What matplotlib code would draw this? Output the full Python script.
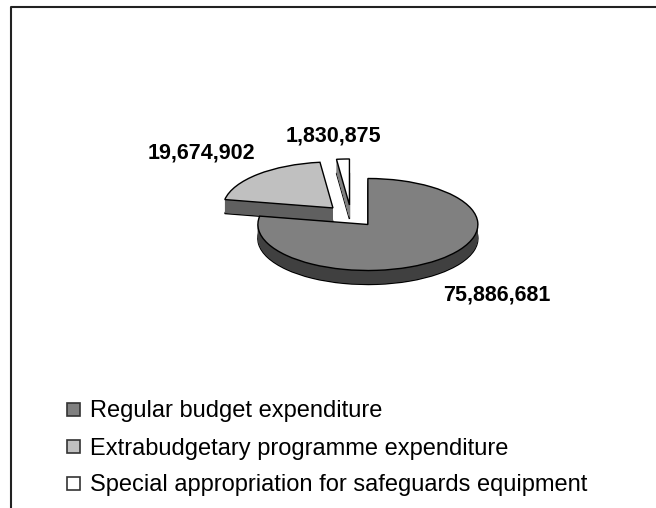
import matplotlib.pyplot as plt
from matplotlib.patches import Wedge, Rectangle
from matplotlib.transforms import Affine2D

plt.rcParams['font.family'] = ['Liberation Sans', 'DejaVu Sans']

values = [75886681, 19674902, 1830875]
names = ['Regular budget expenditure',
         'Extrabudgetary programme expenditure',
         'Special appropriation for safeguards equipment']
top_colors = ['#808080', '#c0c0c0', '#ffffff']
side_colors = ['#404040', '#606060', '#808080']
label_pos = [(497, 295), (201, 153), (333, 136)]

fig = plt.figure(figsize=(6.56, 5.08), dpi=100)
ax = fig.add_axes([0, 0, 1, 1])

# base pie gives the slice geometry (angles + explode offsets)
wedges, _ = ax.pie(values, startangle=90, counterclock=False, explode=[0.24] * 3)
geo = [(w.center, w.r, w.theta1, w.theta2) for w in wedges]
for w in wedges:
    w.remove()

ax.set_xlim(0, 656)
ax.set_ylim(508, 0)
ax.set_aspect('auto')
ax.axis('off')

# tilted 3d look: squash the pie and stack layers for the side walls
cx, cy, rx, ry, depth = 351, 216, 110, 46, 14
steps = 28
for i in [2, 1, 0]:
    center, r, t1, t2 = geo[i]
    for k in range(steps + 1):
        d = depth * (1 - k / steps)
        tr = Affine2D().scale(rx, -ry).translate(cx, cy + d) + ax.transData
        if k == 0:
            w = Wedge(center, r, t1, t2, facecolor=side_colors[i], edgecolor='black', lw=1.0)
        elif k == steps:
            w = Wedge(center, r, t1, t2, facecolor=top_colors[i], edgecolor='black', lw=1.0)
        else:
            w = Wedge(center, r, t1, t2, facecolor=side_colors[i], edgecolor='none', lw=0)
        w.set_transform(tr)
        ax.add_patch(w)

for v, (x, y) in zip(values, label_pos):
    ax.text(x, y, f'{v:,}', ha='center', va='center', fontsize=15.5, fontweight='bold')

# chart area border (left and top only visible)
ax.plot([11, 11, 670], [520, 7, 7], color='#222222', lw=1.5, clip_on=False)

# legend, laid out by hand like the Excel one
for i, (name, c) in enumerate(zip(names, top_colors)):
    y0 = 403 + 37 * i
    ax.add_patch(Rectangle((67, y0), 13, 13, facecolor=c, edgecolor='#333333', lw=1.2))
    ax.text(90, y0 + 14.5, name, ha='left', va='baseline', fontsize=17)

plt.savefig('out.png', dpi=100)
